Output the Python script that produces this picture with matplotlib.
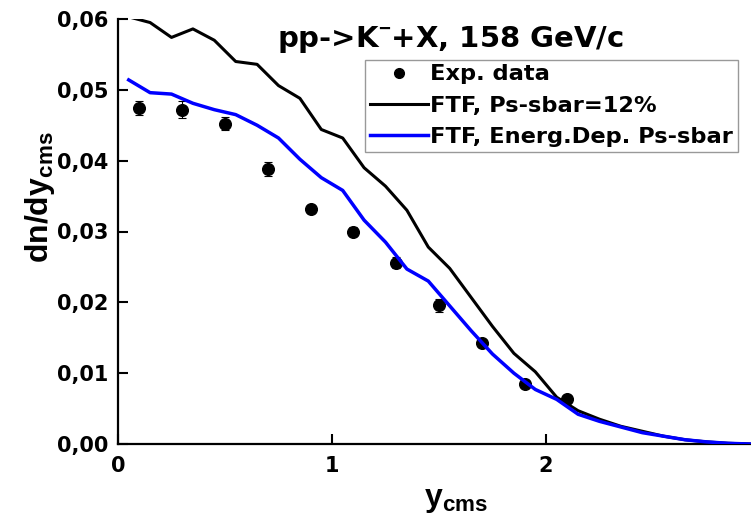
import matplotlib
matplotlib.use("Agg")
import matplotlib.pyplot as plt
from matplotlib.lines import Line2D
from matplotlib.ticker import FixedLocator, FuncFormatter

# ---------------- data ----------------
x_exp = [0.1, 0.3, 0.5, 0.7, 0.9, 1.1, 1.3, 1.5, 1.7, 1.9, 2.1]
y_exp = [0.0474, 0.0472, 0.0452, 0.0388, 0.0332, 0.0300, 0.0256, 0.0196, 0.0142, 0.0085, 0.0063]
err_exp = [0.0010, 0.0012, 0.0009, 0.0010, 0.0006, 0.0006, 0.0008, 0.0009, 0.0005, 0.0005, 0.0005]

x_model = [0.05, 0.15, 0.25, 0.35, 0.45, 0.55, 0.65, 0.75, 0.85, 0.95,
           1.05, 1.15, 1.25, 1.35, 1.45, 1.55, 1.65, 1.75, 1.85, 1.95,
           2.05, 2.15, 2.25, 2.35, 2.45, 2.55, 2.65, 2.75, 2.85, 2.95]
y_ftf12 = [0.0603, 0.0595, 0.0574, 0.0586, 0.0570, 0.0540, 0.0536, 0.0506, 0.0488, 0.0444,
           0.0432, 0.0390, 0.0364, 0.0330, 0.0278, 0.0248, 0.0207, 0.0166, 0.0128, 0.0102,
           0.0066, 0.0047, 0.0035, 0.0025, 0.0018, 0.0011, 0.0006, 0.0003, 0.0001, 0.0000]
y_ftfE = [0.0514, 0.0496, 0.0494, 0.0481, 0.0472, 0.0465, 0.0450, 0.0432, 0.0402, 0.0376,
          0.0358, 0.0316, 0.0285, 0.0247, 0.0230, 0.0195, 0.0160, 0.0127, 0.0100, 0.0077,
          0.0063, 0.0042, 0.0032, 0.0024, 0.0016, 0.0011, 0.0006, 0.0003, 0.0001, 0.0000]

x_ticks = [0, 1, 2]
y_ticks = [0.00, 0.01, 0.02, 0.03, 0.04, 0.05, 0.06]

title_text = r"pp->K$^{-}$+X, 158 GeV/c"
legend_labels = ["Exp. data", "FTF, Ps-sbar=12%", "FTF, Energ.Dep. Ps-sbar"]

# ---------------- style ----------------
plt.rcParams["mathtext.fontset"] = "custom"
plt.rcParams["mathtext.rm"] = "Liberation Sans:bold"
plt.rcParams["mathtext.it"] = "Liberation Sans:bold"
plt.rcParams["mathtext.bf"] = "Liberation Sans:bold"

fig = plt.figure(figsize=(7.51, 5.22), dpi=100)
ax = fig.add_axes([118 / 751, (522 - 444) / 522, (751 - 118) / 751, (444 - 19) / 522])

ax.errorbar(x_exp, y_exp, yerr=err_exp, fmt="o", color="black", ms=8.4,
            ecolor="black", elinewidth=0.8, capsize=3.2, capthick=0.8, zorder=2)
l1, = ax.plot(x_model, y_ftf12, color="black", lw=2.2, zorder=3)
l2, = ax.plot(x_model, y_ftfE, color="#0000ff", lw=2.5, zorder=3)

ax.set_xlim(0, 2.958)
ax.set_ylim(0, 0.06)

for s in ["top", "right"]:
    ax.spines[s].set_visible(False)
for s in ["left", "bottom"]:
    ax.spines[s].set_linewidth(1.6)

ax.xaxis.set_major_locator(FixedLocator(x_ticks))
ax.yaxis.set_major_locator(FixedLocator(y_ticks))
ax.xaxis.set_major_formatter(FuncFormatter(lambda v, p: f"{v:.0f}"))
ax.yaxis.set_major_formatter(FuncFormatter(lambda v, p: f"{v:.2f}".replace(".", ",")))
ax.tick_params(axis="both", direction="in", length=7, width=1.5)
ax.tick_params(axis="y", pad=7)
ax.tick_params(axis="x", pad=9)
for lab in ax.get_xticklabels() + ax.get_yticklabels():
    lab.set_fontfamily("DejaVu Sans")
    lab.set_fontweight("bold")
    lab.set_fontsize(15)

# axis labels
fig.text(40 / 751, 1 - 197 / 522, r"dn/dy$_{\rm cms}$", rotation=90, ha="center", va="center",
         fontsize=23, fontfamily="Liberation Sans", fontweight="bold")
fig.text(456 / 751, 1 - 500 / 522, r"y$_{\rm cms}$", ha="center", va="center",
         fontsize=23, fontfamily="Liberation Sans", fontweight="bold")

# title inside the plot area
fig.text(277 / 751, 1 - 47 / 522, title_text, ha="left", va="baseline",
         fontsize=21, fontfamily="DejaVu Sans", fontweight="bold")

h_exp = Line2D([], [], ls="none", marker="o", ms=7, color="black")
leg = ax.legend([h_exp, l1, l2], legend_labels,
                loc="upper left", bbox_to_anchor=(365 / 751, 1 - 60 / 522),
                bbox_transform=fig.transFigure, borderaxespad=0, borderpad=0.2,
                handlelength=2.6, handletextpad=0.1, labelspacing=0.5,
                frameon=True, fancybox=False, edgecolor="#808080",
                prop={"family": "DejaVu Sans", "weight": "bold", "size": 16.2})
leg.get_frame().set_linewidth(1.0)

fig.savefig("out.png", dpi=100)
